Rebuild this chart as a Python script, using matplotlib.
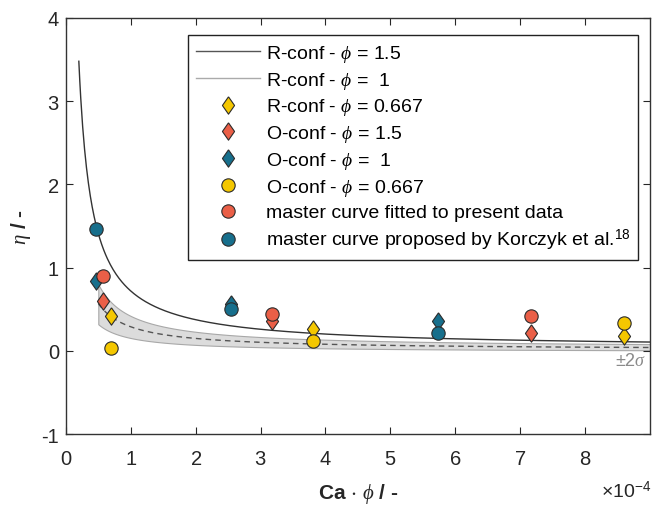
import numpy as np
import matplotlib
matplotlib.use("Agg")
import matplotlib.pyplot as plt
from matplotlib.ticker import ScalarFormatter, FixedLocator
from matplotlib.lines import Line2D

plt.rcParams['font.family'] = ['Liberation Sans', 'DejaVu Sans']
plt.rcParams['mathtext.fontset'] = 'custom'
plt.rcParams['mathtext.rm'] = 'Liberation Sans'
plt.rcParams['mathtext.it'] = 'Liberation Serif:italic'
plt.rcParams['mathtext.bf'] = 'Liberation Sans:bold'
plt.rcParams['mathtext.fallback'] = 'stix'
plt.rcParams['axes.unicode_minus'] = False

# ---------------- data (x = Ca*phi) ----------------
x_blue = [0.46e-4, 2.54e-4, 5.74e-4]
x_red = [0.58e-4, 3.18e-4, 7.16e-4]
x_yellow = [0.70e-4, 3.80e-4, 8.60e-4]

eta_R_0667 = [0.42, 0.26, 0.18]   # yellow diamonds
eta_O_15 = [0.60, 0.36, 0.22]     # red diamonds
eta_O_1 = [0.84, 0.56, 0.36]      # blue diamonds
eta_O_0667 = [0.03, 0.12, 0.34]   # yellow circles
eta_fit = [0.90, 0.44, 0.42]      # red circles
eta_korczyk = [1.47, 0.50, 0.22]  # blue circles

# master curves: eta = c + a / (Ca*phi)
solid_params = [0.03, 0.69e-4]
dashed_params = [0.01, 0.28e-4]
band_upper_params = [0.04, 0.38e-4]
band_lower_params = [-0.01, 0.165e-4]
solid_range = [0.2e-4, 9.0e-4]
dashed_range = [0.5e-4, 9.0e-4]

x_ticks = [0, 1e-4, 2e-4, 3e-4, 4e-4, 5e-4, 6e-4, 7e-4, 8e-4]
y_ticks = [-1, 0, 1, 2, 3, 4]

legend_labels = [
    r'R-conf - $\phi$ = 1.5',
    r'R-conf - $\phi$ =  1',
    r'R-conf - $\phi$ = 0.667',
    r'O-conf - $\phi$ = 1.5',
    r'O-conf - $\phi$ =  1',
    r'O-conf - $\phi$ = 0.667',
    'master curve fitted to present data',
    r'master curve proposed by Korczyk et al.$^{18}$',
]

# ---------------- style ----------------
YEL = '#F4C700'
RED = '#EA5F47'
BLU = '#176F8C'
EDGE = '#2b2b2b'
DIAMOND = [(0, 1), (0.7, 0), (0, -1), (-0.7, 0), (0, 1)]

fig = plt.figure(figsize=(6.52, 5.06), dpi=100)
ax = fig.add_axes([0.101, 0.140, 0.896, 0.8225])

def model(p, x):
    return p[0] + p[1] / x

xs = np.linspace(solid_range[0], solid_range[1], 600)
xd = np.linspace(dashed_range[0], dashed_range[1], 600)

ax.fill_between(xd, model(band_lower_params, xd), model(band_upper_params, xd),
                facecolor='#dcdcdc', edgecolor='#a8a8a8', linewidth=0.8, zorder=1)
ax.plot(xd, model(dashed_params, xd), color='#555555', lw=1.0,
        dashes=(4, 3), zorder=2)
ax.plot(xs, model(solid_params, xs), color='#333333', lw=1.0, zorder=3)

ms_d = 12.5
ms_o = 9.6
mew = 0.8
ax.plot(x_yellow, eta_R_0667, ls='none', marker=DIAMOND, ms=ms_d, mfc=YEL, mec=EDGE, mew=mew, zorder=5)
ax.plot(x_red, eta_O_15, ls='none', marker=DIAMOND, ms=ms_d, mfc=RED, mec=EDGE, mew=mew, zorder=5)
ax.plot(x_blue, eta_O_1, ls='none', marker=DIAMOND, ms=ms_d, mfc=BLU, mec=EDGE, mew=mew, zorder=5)
ax.plot(x_yellow, eta_O_0667, 'o', ms=ms_o, mfc=YEL, mec=EDGE, mew=mew, zorder=6)
ax.plot(x_red, eta_fit, 'o', ms=ms_o, mfc=RED, mec=EDGE, mew=mew, zorder=6)
ax.plot(x_blue, eta_korczyk, 'o', ms=ms_o, mfc=BLU, mec=EDGE, mew=mew, zorder=6)

ax.text(8.7e-4, -0.12, r'$\pm2\sigma$', color='#8a8a8a', fontsize=13,
        ha='center', va='center', zorder=7)

# legend
handles = [
    Line2D([], [], color='#555555', lw=1.0),
    Line2D([], [], color='#aaaaaa', lw=1.0),
    Line2D([], [], ls='none', marker=DIAMOND, ms=ms_d, mfc=YEL, mec=EDGE, mew=mew),
    Line2D([], [], ls='none', marker=DIAMOND, ms=ms_d, mfc=RED, mec=EDGE, mew=mew),
    Line2D([], [], ls='none', marker=DIAMOND, ms=ms_d, mfc=BLU, mec=EDGE, mew=mew),
    Line2D([], [], ls='none', marker='o', ms=ms_o, mfc=YEL, mec=EDGE, mew=mew),
    Line2D([], [], ls='none', marker='o', ms=ms_o, mfc=RED, mec=EDGE, mew=mew),
    Line2D([], [], ls='none', marker='o', ms=ms_o, mfc=BLU, mec=EDGE, mew=mew),
]
leg = ax.legend(handles, legend_labels, loc='upper left',
                bbox_to_anchor=(188 / 652, 1 - 36 / 506), bbox_transform=fig.transFigure,
                fontsize=14, frameon=True, fancybox=False, edgecolor='#222222',
                framealpha=1, labelspacing=0.3, handlelength=3.3, handletextpad=0.3,
                borderpad=0.4, borderaxespad=0)
leg.get_frame().set_linewidth(1.0)

# axes
ax.set_xlim(0, 9e-4)
ax.set_ylim(-1, 4)
ax.xaxis.set_major_locator(FixedLocator(x_ticks))
ax.yaxis.set_major_locator(FixedLocator(y_ticks))
fmt = ScalarFormatter(useMathText=True)
fmt.set_powerlimits((-4, -4))
ax.xaxis.set_major_formatter(fmt)
ax.xaxis.get_offset_text().set_visible(False)
fig.text(651 / 652, 1 - 492 / 506, r'$\times$10$^{-4}$', fontsize=14,
         color='#262626', ha='right', va='center')

ax.tick_params(direction='in', length=5, width=0.8, top=True, right=True,
               labelsize=14.5, colors='#262626')
ax.tick_params(axis='x', pad=11)
ax.tick_params(axis='y', pad=5)
for s in ax.spines.values():
    s.set_color('#333333')
    s.set_linewidth(1.0)

ax.set_xlabel(r'Ca $\cdot$ $\phi$ / -', fontsize=15, fontweight='bold',
              color='#262626', labelpad=9)
ax.set_ylabel(r'$\eta$ / -', fontsize=15, fontweight='bold', color='#262626',
              labelpad=6)

fig.savefig('out.png', dpi=100)
